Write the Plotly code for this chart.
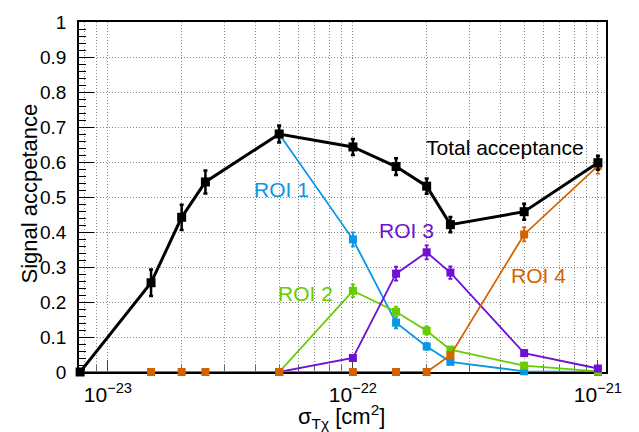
import plotly.graph_objects as go

# ---- data ----
sigma = [7.7e-24, 1.5e-23, 2e-23, 2.5e-23, 5e-23, 1e-22, 1.5e-22, 2e-22, 2.5e-22, 5e-22, 1e-21]

total = [0.0, 0.255, 0.442, 0.543, 0.680, 0.643, 0.587, 0.531, 0.421, 0.458, 0.598]
total_err = [0.0, 0.038, 0.036, 0.033, 0.024, 0.023, 0.024, 0.022, 0.022, 0.023, 0.020]

roi1 = [None, None, None, None, 0.680, 0.379, 0.141, 0.073, 0.029, 0.002, 0.0]
roi1_err = [0, 0, 0, 0, 0.022, 0.020, 0.016, 0.010, 0.006, 0.002, 0.0]

roi2 = [None, None, None, None, 0.0, 0.232, 0.172, 0.118, 0.064, 0.018, 0.002]
roi2_err = [0, 0, 0, 0, 0.0, 0.018, 0.015, 0.012, 0.008, 0.005, 0.002]

roi3 = [None, None, None, None, 0.0, 0.040, 0.281, 0.342, 0.284, 0.054, 0.010]
roi3_err = [0, 0, 0, 0, 0.0, 0.006, 0.020, 0.020, 0.018, 0.007, 0.003]

roi4 = [0, 0, 0, 0, 0.0, 0.0, 0.0, 0.0, 0.048, 0.393, 0.589]
roi4_err = [0, 0, 0, 0, 0.0, 0.0, 0.0, 0.0, 0.006, 0.020, 0.022]

x_tickvals = [1e-23, 1e-22, 1e-21]
x_ticktext = ["10<sup>−23</sup>", "10<sup>−22</sup>", "10<sup>−21</sup>"]
x_minor = [m * 10.0 ** e for e in (-24, -23, -22) for m in range(2, 10)]
y_minor = [round(i * 0.02, 2) for i in range(51) if i % 5 != 0]

labels = ["ROI 1", "ROI 2", "ROI 3", "ROI 4", "Total acceptance"]
colors = ["#0A96E6", "#66CC00", "#7010D2", "#D26400", "#000000"]

FONT = "Liberation Sans, Arial, Helvetica, sans-serif"
GRID = "#8a8a8a"
DOT = "1px,2px"

fig = go.Figure()

series = [(roi1, roi1_err), (roi2, roi2_err), (roi3, roi3_err), (roi4, roi4_err)]
for (vals, errs), col in zip(series, colors[:4]):
    fig.add_trace(go.Scatter(
        x=sigma, y=vals, mode="lines+markers",
        line=dict(color=col, width=1.8),
        marker=dict(symbol="square", size=8, color=col),
        error_y=dict(type="data", array=errs, color=col, thickness=1.8, width=2),
        cliponaxis=False, showlegend=False))

fig.add_trace(go.Scatter(
    x=sigma, y=total, mode="lines+markers",
    line=dict(color="black", width=3),
    marker=dict(symbol="square", size=9, color="black"),
    error_y=dict(type="data", array=total_err, color="black", thickness=2.5, width=2),
    cliponaxis=False, showlegend=False))

# curve labels (positions in axis coords: log10(x), y)
label_pos = [(-22.293, 0.521), (-22.195, 0.224), (-21.780, 0.403), (-21.243, 0.275), (-21.381, 0.641)]
for txt, col, (lx, ly) in zip(labels, colors, label_pos):
    fig.add_annotation(x=lx, y=ly, xref="x", yref="y", text=txt, showarrow=False,
                       font=dict(family=FONT, size=21, color=col),
                       xanchor="center", yanchor="middle")

# axis titles
fig.add_annotation(x=0.499, y=-0.126, xref="paper", yref="paper",
                   text="σ<sub>Tχ</sub> [cm<sup>2</sup>]", showarrow=False,
                   font=dict(family=FONT, size=22, color="black"),
                   xanchor="center", yanchor="middle")
fig.add_annotation(x=-0.093, y=0.51, xref="paper", yref="paper",
                   text="Signal accpetance", showarrow=False, textangle=-90,
                   font=dict(family=FONT, size=22, color="black"),
                   xanchor="center", yanchor="middle")

fig.update_xaxes(
    type="log", range=[-23.118, -20.967],
    tickvals=x_tickvals, ticktext=x_ticktext,
    ticks="inside", ticklen=12, tickcolor="#444", tickwidth=1,
    showgrid=True, gridcolor=GRID, griddash=DOT, gridwidth=1,
    minor=dict(tickvals=x_minor, ticks="inside", ticklen=7, tickcolor="#666", tickwidth=1,
               showgrid=True, gridcolor=GRID, griddash=DOT, gridwidth=1),
    showline=True, linecolor="black", linewidth=1.8, mirror=True,
    tickfont=dict(family=FONT, size=21, color="black"),
    ticklabelstandoff=3, zeroline=False, layer="below traces")

fig.update_yaxes(
    range=[0, 1], tick0=0, dtick=0.1,
    ticks="inside", ticklen=15, tickcolor="black", tickwidth=1.2,
    showgrid=True, gridcolor=GRID, griddash=DOT, gridwidth=1,
    minor=dict(tickvals=y_minor, ticks="inside", ticklen=7, tickcolor="black",
               tickwidth=1, showgrid=False),
    showline=True, linecolor="black", linewidth=1.8, mirror=True,
    tickfont=dict(family=FONT, size=19, color="black"),
    ticklabelstandoff=7, zeroline=False, layer="below traces")

fig.update_layout(
    width=639, height=432,
    margin=dict(l=79, r=33, t=15, b=60),
    plot_bgcolor="white", paper_bgcolor="white",
    font=dict(family=FONT, color="black"),
)

fig.write_html("out.html")
